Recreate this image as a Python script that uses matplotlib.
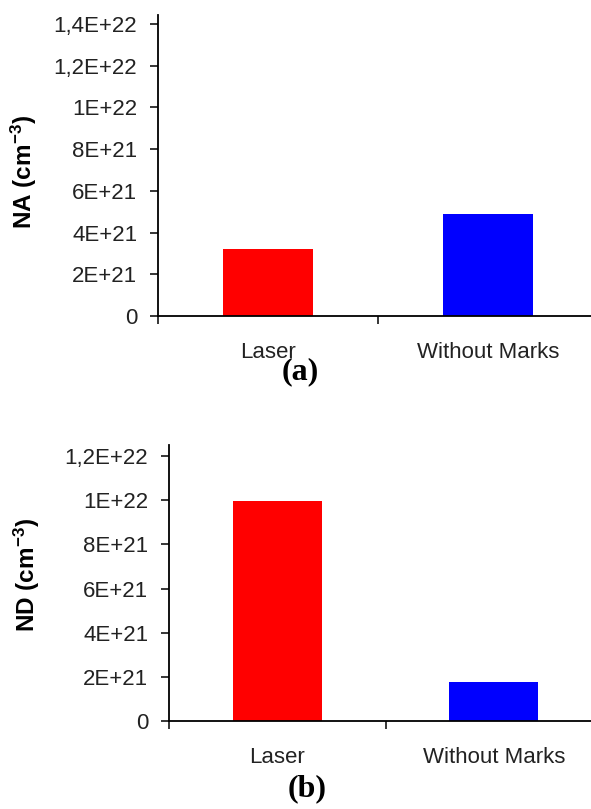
import matplotlib
matplotlib.use("Agg")
import matplotlib.pyplot as plt

plt.rcParams["mathtext.fontset"] = "custom"
plt.rcParams["mathtext.rm"] = "Liberation Sans"
plt.rcParams["mathtext.bf"] = "Liberation Sans:bold"
plt.rcParams["mathtext.default"] = "bf"

categories = ["Laser", "Without Marks"]
na_values = [3.2e21, 4.9e21]
nd_values = [9.95e21, 1.77e21]
bar_colors = ["#ff0000", "#0000ff"]

na_ticks = [0, 2e21, 4e21, 6e21, 8e21, 1e22, 1.2e22, 1.4e22]
na_ticklabels = ["0", "2E+21", "4E+21", "6E+21", "8E+21", "1E+22", "1,2E+22", "1,4E+22"]
nd_ticks = [0, 2e21, 4e21, 6e21, 8e21, 1e22, 1.2e22]
nd_ticklabels = ["0", "2E+21", "4E+21", "6E+21", "8E+21", "1E+22", "1,2E+22"]

W, H = 591, 809
fig = plt.figure(figsize=(W / 100, H / 100), dpi=100)

def px_axes(left, right, top, bottom):
    return [left / W, 1 - bottom / H, (right - left) / W, (bottom - top) / H]

def style(ax, values, ticks, ticklabels, ymax):
    x = list(range(len(categories)))
    ax.bar(x, values, width=0.41, color=bar_colors, edgecolor="none", zorder=2)
    ax.set_xlim(-0.5, len(categories) - 0.5)
    ax.set_ylim(0, ymax)
    ax.set_yticks(ticks)
    ax.set_yticklabels(ticklabels, fontfamily="Liberation Sans", fontsize=16, color="#222222")
    ax.set_xticks([i - 0.5 for i in range(len(categories) + 1)])
    ax.set_xticklabels([""] * (len(categories) + 1))
    ax.set_xticks(x, minor=True)
    ax.set_xticklabels(categories, minor=True, fontfamily="Liberation Sans", fontsize=16, color="#222222")
    ax.tick_params(axis="x", which="minor", length=0, pad=19)
    ax.tick_params(axis="x", which="major", length=6, width=1.1, direction="out")
    ax.tick_params(axis="y", length=6, width=1.1, direction="out", pad=9)
    for s in ["top", "right"]:
        ax.spines[s].set_visible(False)
    for s in ["left", "bottom"]:
        ax.spines[s].set_linewidth(1.3)
        ax.spines[s].set_color("black")

ax1 = fig.add_axes(px_axes(158, 598, 15, 316))
style(ax1, na_values, na_ticks, na_ticklabels, 1.443e22)

ax2 = fig.add_axes(px_axes(169, 602, 445, 721))
style(ax2, nd_values, nd_ticks, nd_ticklabels, 1.25e22)

fig.text(24 / W, 1 - 172 / H, r"NA (cm$^{-3}$)", rotation=90, ha="center", va="center",
         fontfamily="Liberation Sans", fontweight="bold", fontsize=17.5)
fig.text(27 / W, 1 - 575 / H, r"ND (cm$^{-3}$)", rotation=90, ha="center", va="center",
         fontfamily="Liberation Sans", fontweight="bold", fontsize=17.5)

fig.text(300 / W, 1 - 372 / H, "(a)", ha="center", va="center",
         fontfamily="Liberation Serif", fontweight="bold", fontsize=23)
fig.text(307 / W, 1 - 789 / H, "(b)", ha="center", va="center",
         fontfamily="Liberation Serif", fontweight="bold", fontsize=23)

fig.savefig("out.png", dpi=100)
